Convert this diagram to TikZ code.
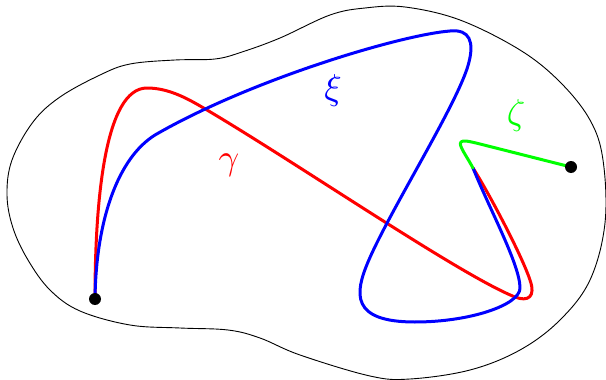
\documentclass[tikz,border=0pt]{standalone}
\begin{document}
\begin{tikzpicture}[x=1pt,y=-1pt,
  curve/.style={line width=3pt,line join=round,line cap=round},
  dot/.style={circle,fill=black,inner sep=0pt,minimum size=12pt},
  lbl/.style={scale=3.6}]
\useasboundingbox (0,0) rectangle (606,380);
\coordinate (A) at (95,299);
\coordinate (B) at (473,168);
\coordinate (C) at (571,167);
% region boundary
\draw[line width=0.9pt] plot[smooth cycle,tension=0.6] coordinates {
 (7,195) (12,160) (33,122) (60,97) (100,75) (130,64) (175,60) (215,59) (242,52)
 (280,38) (330,15) (365,8) (405,7) (460,20) (520,50) (560,82) (590,120) (603,160)
 (605,223) (590,280) (560,320) (520,350) (470,370) (410,379) (370,376) (300,355)
 (260,338) (228,330) (180,328) (130,325) (80,311) (50,290) (28,260) (13,228)};
% gamma
\draw[curve,red] (A) .. controls (95,200) and (105,88) .. (147,88)
  .. controls (170,88) and (190,100) .. (207,110)
  .. controls (300,165) and (460,275) .. (515,297)
  .. controls (528,302) and (536,297) .. (530,280)
  .. controls (522,256) and (490,195) .. (B);
% xi
\draw[curve,blue] (A) .. controls (96,220) and (118,158) .. (155,135)
  .. controls (250,80) and (400,35) .. (450,31)
  .. controls (470,29) and (474,42) .. (469,62)
  .. controls (460,100) and (390,210) .. (368,262)
  .. controls (355,293) and (350,322) .. (415,322)
  .. controls (470,322) and (520,305) .. (520,288)
  .. controls (520,265) and (490,210) .. (B);
% zeta
\draw[curve,green] (B) .. controls (466,155) and (458,145) .. (461,142)
  .. controls (463,140) and (468,141) .. (480,144) -- (C);
\node[dot] (a) at (A) {};
\node[dot] (c) at (C) {};
\node[lbl,red] (g) at (229,165) {$\gamma$};
\node[lbl,blue] (x) at (333,90) {$\xi$};
\node[lbl,green] (z) at (516,115) {$\zeta$};
\end{tikzpicture}
\end{document}
